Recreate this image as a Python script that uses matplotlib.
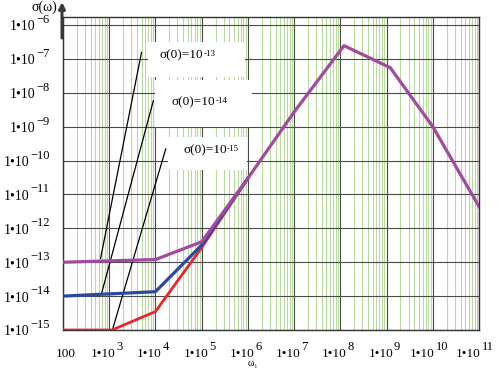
import numpy as np
import matplotlib.pyplot as plt
from matplotlib.patches import Rectangle
from matplotlib.ticker import LogLocator

plt.rcParams['font.family'] = ['Liberation Serif', 'DejaVu Serif']

# conductivity curves sigma(omega)
omega_purple = [1e2, 1e4, 1e5, 1e6, 1e7, 1.2e8, 1.2e9, 1e10, 1e11]
sigma_purple = [1e-13, 1.2e-13, 4e-13, 3e-11, 2.7e-9, 2.45e-7, 5.5e-8, 1e-9, 4.4e-12]

omega_blue = [1e2, 1e4, 1e5, 1e6]
sigma_blue = [1e-14, 1.35e-14, 3.2e-13, 3e-11]

omega_red = [1e2, 1.15e3, 1e4, 1e5, 1e6]
sigma_red = [1e-15, 1e-15, 3.5e-15, 2.7e-13, 3e-11]

# thin black guide lines (start, end)
guide_omega = [[650, 5.0e3], [690, 9.0e3], [1.17e3, 1.67e4]]
guide_sigma = [[1.3e-13, 1.55e-7], [1.26e-14, 5.8e-9], [1e-15, 2.2e-10]]
guide_labels = ["σ(0)=10", "σ(0)=10", "σ(0)=10"]
guide_exps = ["-13", "-14", "-15"]

x_exps = [2, 3, 4, 5, 6, 7, 8, 9, 10, 11]
y_exps = [-15, -14, -13, -12, -11, -10, -9, -8, -7, -6]

W, H = 498, 369
fig = plt.figure(figsize=(W / 100, H / 100), dpi=100)
L, R, T, B = 63, 479, 17, 330
fig.subplots_adjust(left=L / W, right=R / W, top=1 - T / H, bottom=1 - B / H)
ax = fig.add_subplot(111)

ax.set_xscale('log')
ax.set_yscale('log')
ax.set_xlim(1e2, 1e11)
ax.set_ylim(1e-15, 10 ** -5.765)
ax.set_xticks([10.0 ** e for e in x_exps])
ax.set_yticks([10.0 ** e for e in y_exps])
ax.xaxis.set_minor_locator(LogLocator(base=10, subs=np.arange(2, 10), numticks=100))
ax.tick_params(which='both', length=0, labelbottom=False, labelleft=False)
ax.set_axisbelow(True)
ax.grid(True, which='minor', axis='x', color='#b8da9e', lw=0.8)
ax.grid(True, which='major', color='#4a4a4a', lw=0.8)
for s in ax.spines.values():
    s.set_color('#333333')
    s.set_linewidth(1)


def fy(py):
    return H - py


def ax_rect(x0, y0, x1, y1):
    # pixel box -> axes fraction rectangle
    return Rectangle(((x0 - L) / (R - L), (B - y1) / (B - T)),
                     (x1 - x0) / (R - L), (y1 - y0) / (B - T),
                     transform=ax.transAxes, facecolor='white',
                     edgecolor='none', zorder=1)


# white boxes behind the labels
for box in [(148, 42, 245, 77), (155, 80, 252, 127), (168, 137, 247, 170)]:
    ax.add_patch(ax_rect(*box))

ax.plot(omega_red, sigma_red, color='#e8262a', lw=2.0, zorder=3)
ax.plot(omega_blue, sigma_blue, color='#2b4a9e', lw=2.3, zorder=4)
ax.plot(omega_purple, sigma_purple, color='#a24a9e', lw=2.3, zorder=5)

for gx, gy in zip(guide_omega, guide_sigma):
    ax.plot(gx, gy, color='black', lw=0.9, zorder=2)

# guide labels
for (px, py), txt, ex in zip([(160, 55), (172, 102), (183, 150)], guide_labels, guide_exps):
    t = ax.annotate(txt, xy=(px, fy(py)), xycoords='figure pixels',
                    ha='left', va='center', fontsize=9.5, zorder=6)
    ax.annotate(ex, xy=(1, 1), xycoords=t, xytext=(0.5, -1), textcoords='offset pixels',
                ha='left', va='top', fontsize=6.5, zorder=6)

# x tick labels
for e in x_exps:
    if e == 2:
        ax.annotate("100", xy=(1e2, 0), xycoords=('data', 'axes fraction'),
                    xytext=(3, -24), textcoords='offset pixels',
                    ha='center', va='center', fontsize=9.5, annotation_clip=False)
        continue
    nd = len(str(e))
    t = ax.annotate("1•10", xy=(10.0 ** e, 0), xycoords=('data', 'axes fraction'),
                    xytext=(11 - 4.5 * nd, -24), textcoords='offset pixels',
                    ha='right', va='center', fontsize=9.5, annotation_clip=False)
    ax.annotate(str(e), xy=(1, 0.5), xycoords=t, xytext=(1, 7), textcoords='offset pixels',
                ha='left', va='center', fontsize=9, annotation_clip=False)

# y tick labels
for e in y_exps:
    nd = len(str(-e))
    t = ax.annotate("1•10", xy=(48 - (6 + 6.5 * nd), 10.0 ** e),
                    xycoords=('figure pixels', 'data'),
                    xytext=(0, -2), textcoords='offset pixels',
                    ha='right', va='center', fontsize=10, annotation_clip=False)
    ax.annotate("\u2212" + str(-e), xy=(1, 0.5), xycoords=t, xytext=(1, 7),
                textcoords='offset pixels', ha='left', va='center', fontsize=9,
                annotation_clip=False)

# axis arrow and labels
ax.annotate('', xy=(62, fy(2)), xytext=(62, fy(38)), xycoords='figure pixels',
            textcoords='figure pixels', annotation_clip=False,
            arrowprops=dict(arrowstyle='-|>', color='#3a3a3a', lw=2.2,
                            mutation_scale=9, shrinkA=0, shrinkB=0))
fig.text(44 / W, 1 - 7 / H, "σ(ω)", ha='center', va='center', fontsize=10)
fig.text(251 / W, 1 - 364 / H, "ω", ha='center', va='center', fontsize=7)
fig.text(256 / W, 1 - 367 / H, "i", ha='center', va='center', fontsize=4.5)

fig.savefig('out.png', dpi=100)
